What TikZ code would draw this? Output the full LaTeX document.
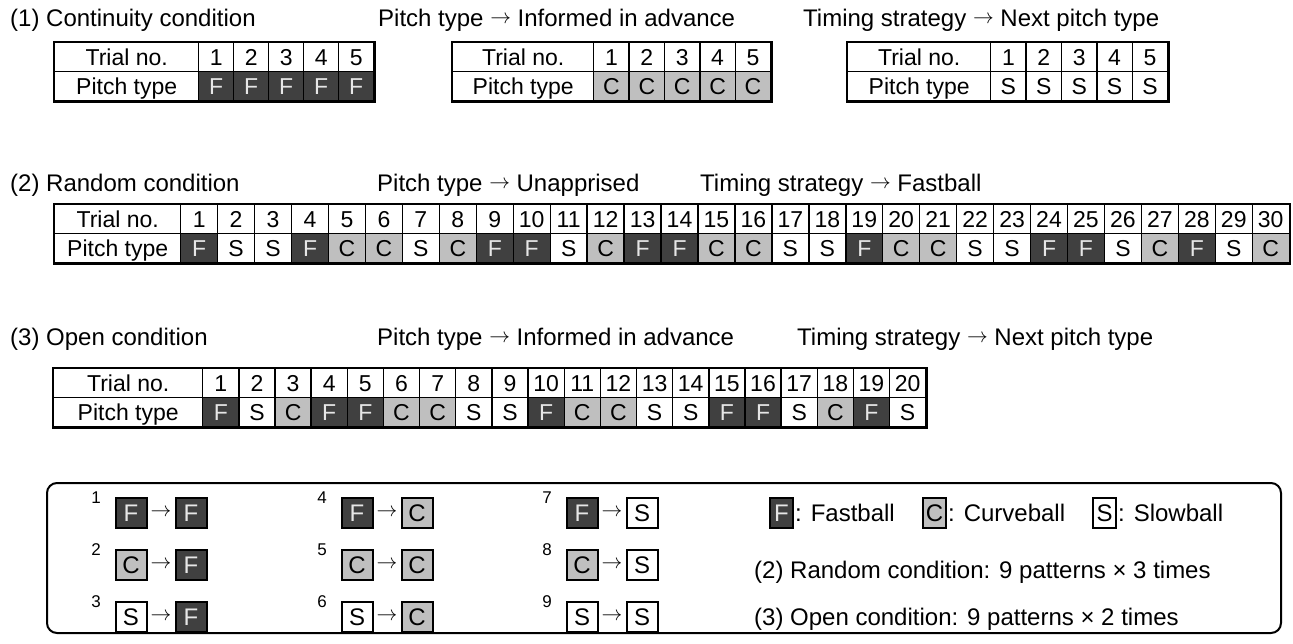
\documentclass[tikz,border=0pt]{standalone}
\usepackage{fontspec}
\setmainfont{Liberation Sans}
\definecolor{fastfill}{HTML}{404040}
\definecolor{fasttext}{HTML}{E6E6E6}
\definecolor{curvefill}{HTML}{BFBFBF}
% small arrow raised to the middle of the capitals
\newcommand\pitcharrow{{\fontsize{21}{24}\selectfont\raisebox{2.5pt}{$\rightarrow$}}}
\newcommand\boxarrow{{\fontsize{22}{24}\selectfont$\rightarrow$}}
\tikzset{
  txt/.style={font=\fontsize{23}{26}\selectfont, inner sep=0pt},
  ptype/.is choice,
  ptype/F/.style={fill=fastfill, text=fasttext},
  ptype/C/.style={fill=curvefill, text=black},
  ptype/S/.style={fill=white, text=black},
  cell/.style={txt, draw=black, line width=1.4pt, anchor=north west,
    minimum height=29pt, text height=16.5pt, text depth=0pt},
  frame/.style={draw=black, line width=2.6pt},
  heading/.style={font=\fontsize{24}{28}\selectfont, inner sep=0pt, anchor=base west},
  patbox/.style={font=\fontsize{24}{28}\selectfont, inner sep=0pt, draw=black,
    line width=2pt, minimum width=31pt, minimum height=30pt,
    text height=17pt, text depth=0pt},
  keybox/.style={patbox, minimum width=23pt},
  supnum/.style={font=\fontsize{17}{19}\selectfont, inner sep=0pt},
  legendframe/.style={draw=black, line width=2pt, rounded corners=10pt},
}
% #1 name, #2 left x, #3 right x of label column, #4 cell width,
% #5 top y, #6 pitch sequence, #7 number of trials
\newcommand\pitchtable[7]{%
  \pgfmathsetmacro\labw{#3-#2}%
  \node[cell, ptype=S, minimum width=\labw pt] (#1-hd) at (#2,#5) {Trial no.};
  \node[cell, ptype=S, minimum width=\labw pt] (#1-pt) at (#2,#5+29) {Pitch type};
  \foreach \t [count=\i] in {#6} {%
    \pgfmathsetmacro\xl{#3+(\i-1)*#4}%
    \node[cell, ptype=S, minimum width=#4pt] (#1-n\i) at (\xl,#5) {\i};
    \node[cell, ptype=\t, minimum width=#4pt] (#1-p\i) at (\xl,#5+29) {\t};
  }%
  \draw[frame] (#1-hd.north west) rectangle (#1-p#7.south east);
}
% #1 name, #2 centre x of first box, #3 centre y, #4 first pitch, #5 second pitch, #6 number
\newcommand\legpattern[6]{%
  \node[supnum] (#1-k) at (#2-35,#3-15) {#6};
  \node[patbox, ptype=#4] (#1-a) at (#2,#3) {#4};
  \node[patbox, ptype=#5] (#1-b) at (#2+60,#3) {#5};
  \node[inner sep=0pt] (#1-r) at (#2+30,#3) {\boxarrow};
}
\begin{document}
\begin{tikzpicture}[x=1pt,y=-1pt]
\useasboundingbox (0,0) rectangle (1293,643);

% (1) continuity condition
\node[heading] (h1a) at (10,26) {(1) Continuity condition};
\node[heading] (h1b) at (378,26) {Pitch type \pitcharrow{} Informed in advance};
\node[heading] (h1c) at (803,26) {Timing strategy \pitcharrow{} Next pitch type};
\pitchtable{cont}{54}{198}{35}{42}{F,F,F,F,F}{5}
\pitchtable{adv}{452}{593}{35.4}{42}{C,C,C,C,C}{5}
\pitchtable{next}{847}{990}{35.4}{42}{S,S,S,S,S}{5}

% (2) random condition
\node[heading] (h2a) at (10,191) {(2) Random condition};
\node[heading] (h2b) at (377,191) {Pitch type \pitcharrow{} Unapprised};
\node[heading] (h2c) at (700,191) {Timing strategy \pitcharrow{} Fastball};
\pitchtable{rand}{54}{180}{36.95}{204}{F,S,S,F,C,C,S,C,F,F,S,C,F,F,C,C,S,S,F,C,C,S,S,F,F,S,C,F,S,C}{30}

% (3) open condition
\node[heading] (h3a) at (10,345) {(3) Open condition};
\node[heading] (h3b) at (377,345) {Pitch type \pitcharrow{} Informed in advance};
\node[heading] (h3c) at (797,345) {Timing strategy \pitcharrow{} Next pitch type};
\pitchtable{open}{53}{202}{36.15}{368}{F,S,C,F,F,C,C,S,S,F,C,C,S,S,F,F,S,C,F,S}{20}

% legend
\draw[legendframe] (47,483) rectangle (1281,633);
\legpattern{p1}{131}{513}{F}{F}{1}
\legpattern{p2}{131}{565}{C}{F}{2}
\legpattern{p3}{131}{617}{S}{F}{3}
\legpattern{p4}{357}{513}{F}{C}{4}
\legpattern{p5}{357}{565}{C}{C}{5}
\legpattern{p6}{357}{617}{S}{C}{6}
\legpattern{p7}{582}{513}{F}{S}{7}
\legpattern{p8}{582}{565}{C}{S}{8}
\legpattern{p9}{582}{617}{S}{S}{9}

\node[keybox, ptype=F] (keyF) at (781.5,513) {F};
\node[heading] (keyFt) at (795,521.5) {: Fastball};
\node[keybox, ptype=C] (keyC) at (934.5,513) {C};
\node[heading] (keyCt) at (948,521.5) {: Curveball};
\node[keybox, ptype=S] (keyS) at (1104.5,513) {S};
\node[heading] (keySt) at (1118,521.5) {: Slowball};

\node[heading] (rnote) at (754,578.5) {(2) Random condition: 9 patterns × 3 times};
\node[heading] (onote) at (754,625.5) {(3) Open condition: 9 patterns × 2 times};
\end{tikzpicture}
\end{document}
